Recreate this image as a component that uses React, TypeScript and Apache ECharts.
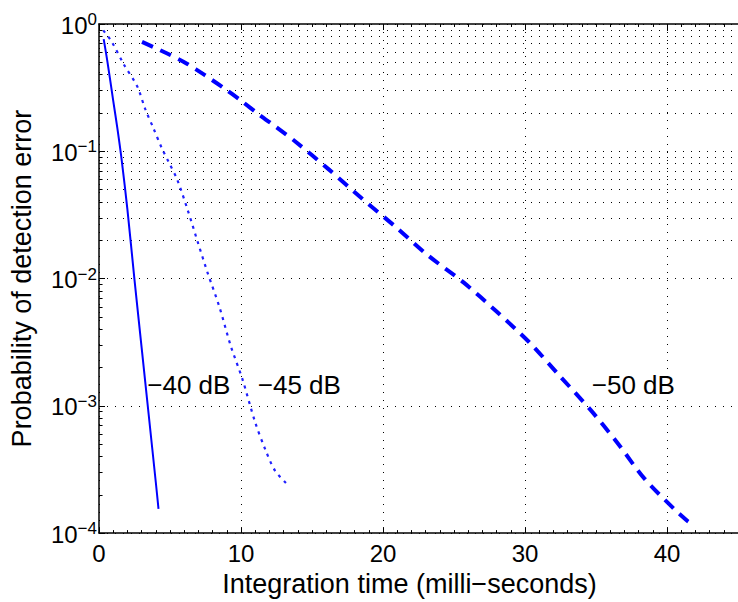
import React, { useEffect, useRef } from "react";
import * as echarts from "echarts";

// x: integration time (ms), y: probability of detection error
const x40 = [0.33, 0.6, 1.0, 1.3, 1.6, 2.0, 2.5, 3.0, 3.5, 4.0, 4.19];
const p40 = [0.76, 0.5, 0.25, 0.15, 0.085, 0.035, 0.00977, 0.00288, 0.000851, 0.000251, 0.000155];

const x45 = [0.3, 0.9, 1.76, 2.69, 3.26, 3.84, 4.42, 4.93, 5.5, 6.27, 6.97, 7.66, 8.47, 9.28, 10.1, 11.0, 11.7, 12.4, 13.28];
const p45 = [0.891, 0.724, 0.479, 0.324, 0.214, 0.151, 0.106, 0.0813, 0.0603, 0.0339, 0.0191, 0.011, 0.00603, 0.00295, 0.00162, 0.000741, 0.000457, 0.000309, 0.00024];

const x50 = [3.03, 4.77, 6.16, 7.43, 8.75, 9.98, 11.25, 12.48, 13.8, 16.16, 18.5, 20.85, 23.2, 25.67, 28.0, 30.3, 32.4, 34.6, 36.5, 38.4, 40.6, 41.5];
const p50 = [0.724, 0.589, 0.49, 0.398, 0.316, 0.251, 0.195, 0.155, 0.12, 0.0724, 0.0427, 0.0257, 0.0151, 0.00933, 0.0055, 0.00316, 0.00174, 0.000933, 0.000513, 0.000269, 0.000151, 0.000123];

const seriesNames = ["−40 dB", "−45 dB", "−50 dB"];
const labelAnchors: [number, number][] = [[3.4, 0.00145], [11.18, 0.00145], [34.7, 0.00145]];

const minorLogValues = [
  2e-4, 3e-4, 4e-4, 5e-4, 6e-4, 7e-4, 8e-4, 9e-4,
  2e-3, 3e-3, 4e-3, 5e-3, 6e-3, 7e-3, 8e-3, 9e-3,
  2e-2, 3e-2, 4e-2, 5e-2, 6e-2, 7e-2, 8e-2, 9e-2,
  2e-1, 3e-1, 4e-1, 5e-1, 6e-1, 7e-1, 8e-1, 9e-1,
];

const xTickInterval = 10;
const xMin = 0;
const xMax = 45;

const FONT = "'Liberation Sans', Arial, Helvetica, sans-serif";
const BLUE = "#0000ff";

const zip = (xs: number[], ys: number[]) => xs.map((x, i) => [x, ys[i]]);

export default function App() {
  const ref = useRef<HTMLDivElement>(null);
  useEffect(() => {
    if (!ref.current) return;
    const chart = echarts.init(ref.current, null, { renderer: "svg" });
    const dotted = { color: "#000", width: 1, type: [1, 7] as number[] };
    const xAxisBase = {
      type: "value" as const,
      min: xMin,
      max: xMax,
      interval: xTickInterval,
      axisLine: { show: true, onZero: false, lineStyle: { color: "#000", width: 1.5 } },
      axisTick: { show: true, inside: true, length: 6, lineStyle: { color: "#000", width: 1 } },
      minorTick: { show: true, splitNumber: 10, length: 3, lineStyle: { color: "#000", width: 1 } },
    };
    const labelStyle = { show: true, position: "right", distance: 0, fontFamily: FONT, fontSize: 26, color: "#000", formatter: "{b}" };
    chart.setOption({
      animation: false,
      backgroundColor: "#fff",
      grid: { left: 98, right: -8, top: 24, bottom: 68, containLabel: false },
      xAxis: [
        {
          ...xAxisBase,
          position: "bottom",
          name: "Integration time (milli−seconds)",
          nameLocation: "middle",
          nameGap: 30,
          nameTextStyle: { fontFamily: FONT, fontSize: 27, color: "#000", padding: [0, 18, 0, 0] },
          axisLabel: {
            show: true,
            margin: 8,
            showMaxLabel: false,
            fontFamily: FONT,
            fontSize: 24,
            color: "#000",
            formatter: (v: number) => (v % 10 === 0 ? String(v) : ""),
          },
          splitLine: { show: true, lineStyle: dotted },
        },
        {
          ...xAxisBase,
          position: "top",
          axisLabel: { show: false },
          splitLine: { show: false },
        },
      ],
      yAxis: {
        type: "log",
        logBase: 10,
        min: 1e-4,
        max: 1,
        name: "Probability of detection error",
        nameLocation: "middle",
        nameGap: 64,
        nameTextStyle: { fontFamily: FONT, fontSize: 27, color: "#000" },
        axisLine: { show: true, lineStyle: { color: "#000", width: 1.5 } },
        axisTick: { show: true, inside: true, length: 6, lineStyle: { color: "#000" } },
        splitLine: { show: true, lineStyle: dotted },
        axisLabel: {
          margin: 2,
          formatter: (v: number) => {
            const e = Math.round(Math.log10(v));
            return `{b|10}{s|${e < 0 ? "−" + -e : e}}`;
          },
          rich: {
            b: { fontFamily: FONT, fontSize: 24, color: "#000", lineHeight: 26, verticalAlign: "bottom" },
            s: { fontFamily: FONT, fontSize: 17, color: "#000", lineHeight: 19, verticalAlign: "top" },
          },
        },
      },
      series: [
        {
          name: seriesNames[0],
          type: "line",
          data: zip(x40, p40),
          symbol: "none",
          smooth: 0.3,
          lineStyle: { color: BLUE, width: 2, type: "solid" },
          z: 3,
          markLine: {
            silent: true,
            symbol: ["none", "none"],
            z: 1,
            label: { show: false },
            lineStyle: dotted,
            emphasis: { disabled: true },
            data: minorLogValues.map((v) => ({ yAxis: v })),
          },
          markPoint: {
            symbol: "circle",
            symbolSize: 0,
            silent: true,
            label: labelStyle,
            data: [{ name: seriesNames[0], coord: labelAnchors[0] }],
          },
        },
        {
          name: seriesNames[1],
          type: "line",
          data: zip(x45, p45),
          symbol: "none",
          smooth: 0.3,
          lineStyle: { color: "#2020ff", width: 2.2, type: [3, 5], cap: "butt" },
          z: 3,
          markLine: {
            silent: true,
            symbol: ["none", "none"],
            z: 1,
            label: { show: false },
            lineStyle: { color: "#000", width: 1, type: "solid" },
            emphasis: { disabled: true },
            data: minorLogValues.map((v) => [{ coord: [xMin, v] }, { coord: [0.25, v] }]),
          },
          markPoint: {
            symbol: "circle",
            symbolSize: 0,
            silent: true,
            label: labelStyle,
            data: [{ name: seriesNames[1], coord: labelAnchors[1] }],
          },
        },
        {
          name: seriesNames[2],
          type: "line",
          data: zip(x50, p50),
          symbol: "none",
          smooth: 0.3,
          lineStyle: { color: BLUE, width: 4, type: [12, 8], cap: "butt" },
          z: 3,
          markPoint: {
            symbol: "circle",
            symbolSize: 0,
            silent: true,
            label: labelStyle,
            data: [{ name: seriesNames[2], coord: labelAnchors[2] }],
          },
        },
      ],
    });
    return () => chart.dispose();
  }, []);
  return (
    <div style={{ position: "fixed", left: 0, top: 0, width: 738, height: 602, overflow: "hidden", background: "#fff" }}>
      <div ref={ref} style={{ width: 738, height: 602 }} />
    </div>
  );
}
